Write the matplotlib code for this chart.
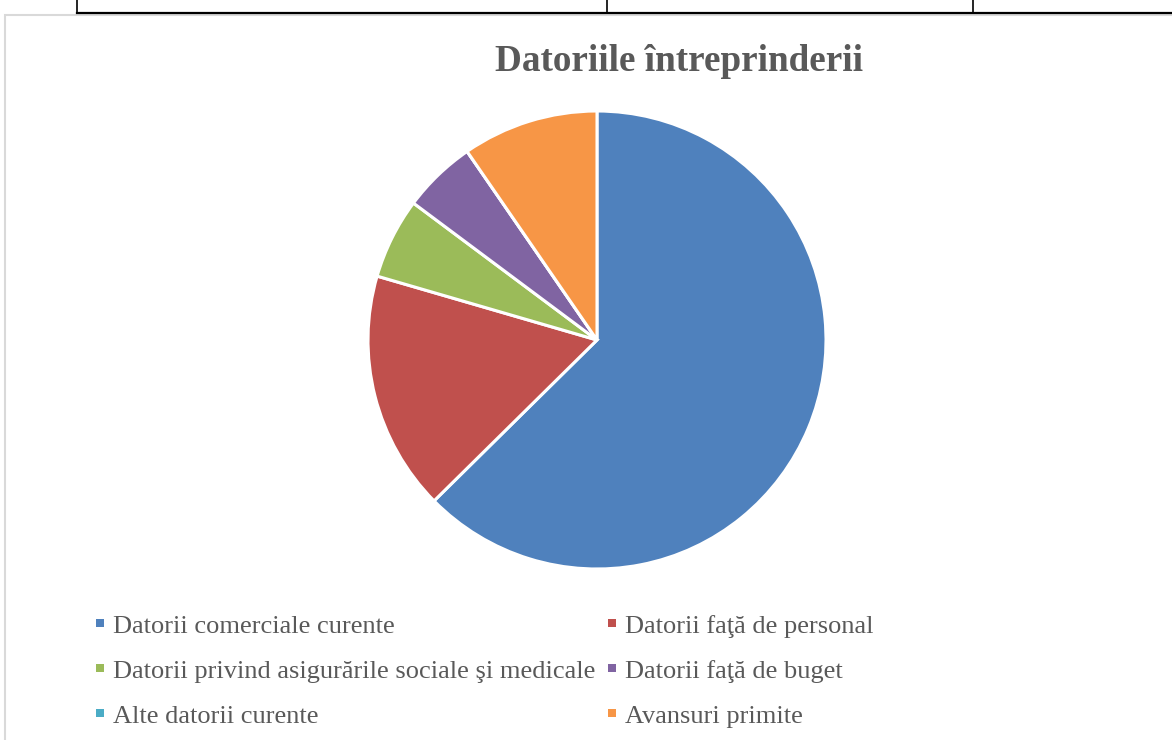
import matplotlib
matplotlib.use("Agg")
import matplotlib.pyplot as plt
from matplotlib.patches import Rectangle
from matplotlib.lines import Line2D

categories = ["Datorii comerciale curente", "Datorii faţă de personal",
              "Datorii privind asigurările sociale şi medicale", "Datorii faţă de buget",
              "Alte datorii curente", "Avansuri primite"]
values = [62.6, 16.9, 5.7, 5.2, 0.0, 9.6]
colors = ["#4F81BD", "#C0504D", "#9BBB59", "#8064A2", "#4BACC6", "#F79646"]
title = "Datoriile întreprinderii"

W, H = 1172, 740
fig = plt.figure(figsize=(W / 100, H / 100), dpi=100)
fig.patch.set_facecolor("white")

def fx(x): return x / W
def fy(y): return 1 - y / H

# table lines above chart
fig.add_artist(Line2D([fx(77), 1], [fy(12.5), fy(12.5)], color="black", lw=1.6))
for xv in [77, 607, 973]:
    fig.add_artist(Line2D([fx(xv), fx(xv)], [1, fy(12.5)], color="black", lw=1.2))
# chart border
fig.add_artist(Rectangle((fx(5), fy(745)), fx(1180 - 5), fy(14.5) - fy(745),
                         fill=False, edgecolor="#D9D9D9", lw=1.5))

cx, cy, r = 597, 340, 229
ax = fig.add_axes([fx(cx - r), fy(cy + r), fx(2 * r), fy(cy - r) - fy(cy + r)])
ax.pie(values, colors=colors, startangle=90, counterclock=False, radius=1,
       wedgeprops=dict(edgecolor="white", linewidth=2.2))
ax.set_xlim(-1, 1); ax.set_ylim(-1, 1)
ax.set_aspect("auto")
ax.axis("off")

fig.text(fx(679), fy(71), title, ha="center", va="baseline", fontsize=26.7,
         fontweight="bold", color="#595959", family="Liberation Serif")

col_x = [100, 612]
row_y = [623, 668, 713]
for i, (lab, c) in enumerate(zip(categories, colors)):
    x = col_x[i % 2]
    y = row_y[i // 2]
    fig.add_artist(Rectangle((fx(x - 4), fy(y + 4)), fx(8), fy(y - 4) - fy(y + 4),
                             facecolor=c, edgecolor="none"))
    fig.text(fx(x + 13), fy(y + 10), lab, ha="left", va="baseline", fontsize=19,
             color="#595959", family="Liberation Serif")

fig.savefig("out.png", dpi=100)
